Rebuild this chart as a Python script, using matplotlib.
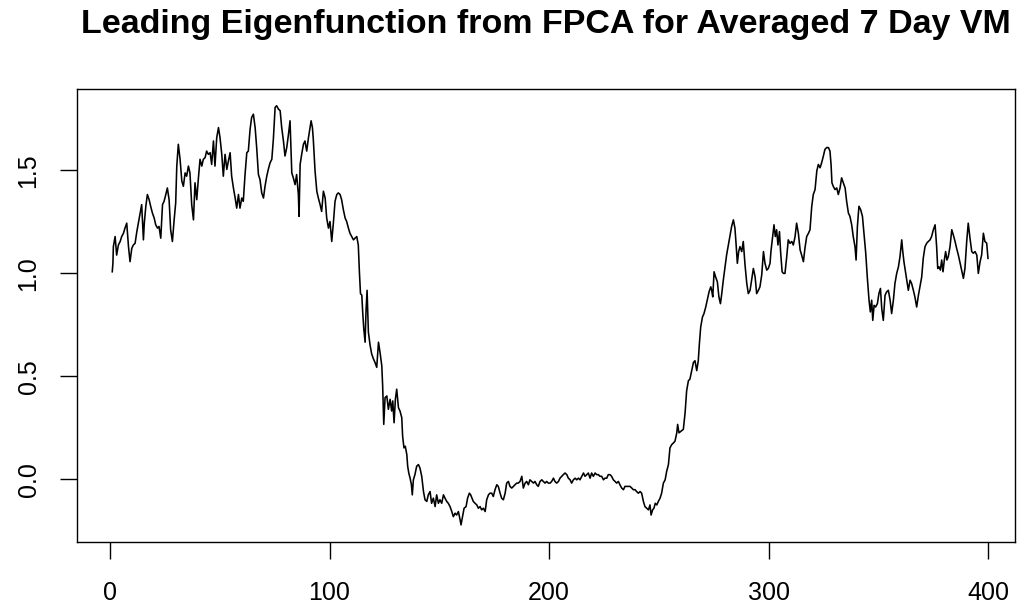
import matplotlib
matplotlib.use("Agg")
import matplotlib.pyplot as plt
import numpy as np

plt.rcParams["font.family"] = ["Liberation Sans", "DejaVu Sans"]

title = "Leading Eigenfunction from FPCA for Averaged 7 Day VM"

# leading eigenfunction, read in pieces along the grid (t = 1..400)
t_a = [1.0, 1.3, 1.5, 2.3, 3.0, 3.8, 4.6, 5.3, 6.1, 6.8, 7.6, 8.4, 9.1, 9.9, 10.6,
       11.4, 12.2, 12.9, 13.7, 14.4, 15.2, 15.6, 16.3, 17.0, 17.8, 18.5, 19.3, 20.1,
       20.8, 21.6, 22.3, 23.1, 23.9, 24.6, 25.4, 26.1, 26.9, 27.6, 28.4, 29.2, 29.9,
       30.4, 31.1, 31.9, 32.7, 33.4, 34.2, 34.9, 35.7, 36.4, 37.2, 38.0, 38.7, 39.5,
       40.2, 41.0, 41.8, 42.5, 43.3]
phi_a = [1.008, 1.049, 1.130, 1.179, 1.089, 1.138, 1.155, 1.179, 1.195, 1.220, 1.244,
         1.130, 1.057, 1.122, 1.138, 1.146, 1.203, 1.244, 1.293, 1.334, 1.163, 1.244,
         1.326, 1.383, 1.358, 1.326, 1.293, 1.269, 1.236, 1.220, 1.228, 1.171, 1.334,
         1.350, 1.383, 1.415, 1.358, 1.212, 1.155, 1.260, 1.342, 1.521, 1.627, 1.554,
         1.448, 1.423, 1.488, 1.472, 1.521, 1.488, 1.334, 1.260, 1.440, 1.358, 1.456,
         1.554, 1.521, 1.554, 1.562]

t_b = [44.0, 44.8, 45.6, 46.3, 47.1, 47.8, 48.6, 49.4, 50.1, 50.9, 51.6, 52.4, 53.2,
       53.9, 54.7, 55.4, 56.2, 57.0, 57.7, 58.5, 59.2, 60.0, 60.7, 61.5, 62.3, 63.0,
       63.8, 64.5, 65.3, 66.1, 66.8, 67.6, 68.3, 69.1, 69.9, 70.6, 71.4, 72.1, 72.9,
       73.7, 74.4, 75.2, 75.9, 76.7, 77.5, 78.2, 79.0, 79.7, 80.5, 81.3, 82.0, 82.8,
       83.5, 84.3]
phi_b = [1.594, 1.578, 1.586, 1.529, 1.643, 1.521, 1.659, 1.708, 1.659, 1.578, 1.472,
         1.578, 1.505, 1.545, 1.586, 1.472, 1.415, 1.366, 1.317, 1.383, 1.317, 1.366,
         1.350, 1.480, 1.586, 1.594, 1.700, 1.757, 1.773, 1.708, 1.611, 1.480, 1.456,
         1.391, 1.366, 1.423, 1.472, 1.505, 1.537, 1.554, 1.651, 1.806, 1.814, 1.798,
         1.790, 1.708, 1.643, 1.570, 1.611, 1.676, 1.741, 1.488, 1.464, 1.431]

t_c = [85.0, 85.8, 86.1, 86.6, 87.3, 88.1, 88.8, 89.6, 90.4, 91.1, 91.6, 92.2, 92.6,
       93.4, 94.2, 94.9, 95.7, 96.4, 97.2, 98.0, 98.7, 99.5, 100.2, 101.0, 101.8,
       102.5, 103.3, 104.0, 104.8, 105.5, 106.3, 107.1, 107.8, 108.6, 109.3, 110.1,
       110.9, 111.6, 112.4, 113.1, 113.6, 114.1, 114.7, 115.1, 115.6, 116.2, 116.6,
       117.1, 117.7, 118.5, 119.2, 120.0, 120.7, 121.5, 122.3, 123.0, 123.8, 124.2,
       124.7, 125.3, 126.1, 126.8, 127.6]
phi_c = [1.480, 1.383, 1.277, 1.529, 1.578, 1.627, 1.643, 1.594, 1.659, 1.708, 1.741,
         1.708, 1.651, 1.497, 1.399, 1.366, 1.334, 1.301, 1.399, 1.366, 1.269, 1.220,
         1.252, 1.155, 1.252, 1.350, 1.383, 1.391, 1.383, 1.358, 1.309, 1.269, 1.252,
         1.220, 1.195, 1.179, 1.163, 1.171, 1.179, 1.138, 1.008, 0.902, 0.894, 0.813,
         0.731, 0.666, 0.813, 0.918, 0.715, 0.650, 0.609, 0.585, 0.568, 0.544, 0.666,
         0.617, 0.552, 0.454, 0.267, 0.397, 0.405, 0.340, 0.389]

t_d = [128.3, 128.8, 129.4, 130.0, 130.6, 131.4, 132.1, 132.9, 133.3, 133.9, 134.5,
       135.2, 135.6, 136.1, 136.7, 137.3, 137.7, 138.2, 138.9, 139.7, 140.5, 141.2,
       142.0, 142.8, 143.5, 144.3, 145.0, 145.8, 146.5, 147.3, 148.1, 148.8, 149.6,
       150.3, 151.1, 151.9, 152.6, 153.4, 154.1, 154.9, 155.7, 156.4, 157.2, 157.9,
       158.7, 159.5, 159.9, 160.7, 161.3, 162.2, 162.9, 163.7, 164.3, 164.9, 165.5,
       166.3, 167.1, 167.8, 168.6, 169.3, 170.1, 170.9, 171.6, 172.4, 173.1]
phi_d = [0.332, 0.381, 0.275, 0.389, 0.438, 0.348, 0.332, 0.300, 0.210, 0.153, 0.161,
         0.121, 0.064, 0.031, 0.006, -0.026, -0.075, -0.002, 0.023, 0.064, 0.072,
         0.055, 0.015, -0.059, -0.099, -0.107, -0.075, -0.059, -0.116, -0.091, -0.132,
         -0.075, -0.116, -0.099, -0.116, -0.075, -0.091, -0.107, -0.116, -0.132,
         -0.156, -0.181, -0.164, -0.173, -0.156, -0.197, -0.221, -0.173, -0.140,
         -0.132, -0.091, -0.067, -0.075, -0.091, -0.107, -0.116, -0.124, -0.140,
         -0.132, -0.148, -0.140, -0.156, -0.099, -0.075, -0.067]

t_e = [173.9, 174.6, 175.4, 176.2, 176.9, 177.7, 178.4, 179.2, 180.0, 180.7, 181.5,
       182.2, 183.0, 183.8, 184.5, 185.3, 186.0, 186.8, 187.6, 188.3, 189.1, 189.8,
       190.6, 191.3, 192.1, 192.9, 193.6, 194.4, 195.1, 195.9, 196.7, 197.4, 198.2,
       198.9, 199.7, 200.5, 201.2, 202.0, 202.7, 203.5, 204.3, 205.0, 205.8, 206.5,
       207.3, 208.1, 208.8, 209.6, 210.3, 211.1, 211.9, 212.6, 213.4, 214.1, 214.9,
       215.7, 216.4]
phi_e = [-0.067, -0.083, -0.050, -0.026, -0.034, -0.067, -0.091, -0.099, -0.067,
         -0.018, -0.010, -0.034, -0.042, -0.034, -0.026, -0.018, -0.018, -0.010, 0.015,
         -0.042, -0.018, -0.010, -0.026, -0.002, -0.010, -0.018, -0.010, -0.026,
         -0.034, -0.010, -0.002, -0.010, -0.018, -0.010, -0.018, -0.018, -0.010, 0.006,
         -0.010, -0.018, -0.010, 0.006, 0.015, 0.023, 0.031, 0.023, 0.006, -0.002,
         -0.018, -0.002, 0.006, -0.002, 0.006, -0.002, 0.015, 0.031, 0.015]

t_f = [217.2, 217.9, 218.7, 219.4, 220.2, 221.0, 221.7, 222.5, 223.2, 224.0, 224.8,
       225.5, 226.3, 227.0, 227.8, 228.5, 229.3, 230.1, 230.8, 231.6, 232.3, 233.1,
       233.9, 234.6, 235.4, 236.1, 236.9, 237.7, 238.4, 239.2, 239.9, 240.7, 241.5,
       242.2, 243.0, 243.7, 244.5, 245.3, 246.0, 246.5, 247.2, 247.8, 248.4, 249.1,
       249.8, 250.6, 251.3, 252.1, 252.9, 253.6, 254.4, 255.1, 255.9, 256.7, 257.4,
       258.2, 258.6, 259.2]
phi_f = [0.023, 0.031, 0.006, 0.031, 0.015, 0.031, 0.023, 0.023, 0.015, 0.015, -0.002,
         0.006, 0.006, 0.023, 0.023, 0.015, -0.002, -0.010, -0.018, -0.010, -0.026,
         -0.042, -0.050, -0.034, -0.034, -0.034, -0.034, -0.042, -0.050, -0.050,
         -0.059, -0.067, -0.059, -0.067, -0.107, -0.132, -0.140, -0.148, -0.124,
         -0.173, -0.148, -0.140, -0.116, -0.124, -0.107, -0.091, -0.067, -0.018,
         -0.002, 0.039, 0.072, 0.153, 0.169, 0.177, 0.186, 0.226, 0.267, 0.226]

t_g = [261.2, 262.0, 262.7, 263.5, 264.2, 265.0, 265.8, 266.5, 267.3, 268.0, 268.5,
       269.1, 269.9, 270.6, 271.4, 272.1, 272.9, 273.7, 274.1, 274.6, 275.2, 275.9,
       276.7, 277.4, 278.1, 278.7, 279.4, 280.2, 280.9, 281.7, 282.5, 283.2, 284.0,
       284.7, 285.2, 285.8, 286.4, 287.0, 287.8, 288.5, 289.3, 290.1, 290.8, 291.6,
       292.3, 293.1, 293.9, 294.6, 295.4, 296.1, 296.9, 297.7, 298.4, 299.2, 299.9,
       300.7]
phi_g = [0.243, 0.324, 0.430, 0.479, 0.487, 0.528, 0.568, 0.576, 0.528, 0.576, 0.658,
         0.739, 0.788, 0.805, 0.837, 0.870, 0.910, 0.935, 0.918, 0.886, 1.008, 0.983,
         0.959, 0.886, 0.853, 0.902, 0.967, 1.032, 1.089, 1.138, 1.187, 1.228, 1.260,
         1.220, 1.147, 1.049, 1.106, 1.130, 1.106, 1.155, 1.041, 0.951, 0.902, 0.918,
         0.967, 1.024, 0.983, 0.902, 0.918, 0.935, 0.992, 1.106, 1.049, 1.016, 1.024,
         1.049]

t_h = [301.1, 301.9, 302.5, 303.1, 303.7, 304.3, 305.0, 305.5, 306.2, 306.8, 307.5,
       308.3, 309.0, 309.8, 310.6, 311.3, 312.1, 312.8, 313.6, 314.4, 315.1, 315.9,
       316.6, 317.4, 318.2, 318.9, 319.7, 320.4, 321.2, 322.0, 322.7, 323.5, 324.2,
       325.0, 325.7, 326.5, 327.3, 328.0, 328.5, 328.9, 329.5, 330.3, 331.1, 331.8,
       332.6, 333.3, 334.1, 334.9, 335.6, 336.4, 337.1, 337.9, 338.6, 339.4, 339.9,
       340.5, 341.2, 342.0, 342.8, 343.5, 344.3, 345.0, 345.8]
phi_h = [1.106, 1.179, 1.236, 1.179, 1.212, 1.138, 1.203, 1.106, 1.008, 1.000, 1.000,
         1.081, 1.163, 1.146, 1.155, 1.138, 1.179, 1.244, 1.195, 1.114, 1.089, 1.057,
         1.122, 1.179, 1.195, 1.212, 1.326, 1.383, 1.407, 1.497, 1.529, 1.513, 1.537,
         1.570, 1.602, 1.611, 1.611, 1.594, 1.529, 1.440, 1.423, 1.407, 1.415, 1.383,
         1.415, 1.464, 1.440, 1.415, 1.350, 1.293, 1.277, 1.236, 1.179, 1.130, 1.065,
         1.228, 1.326, 1.309, 1.277, 1.195, 1.098, 0.983, 0.870]

t_i = [346.4, 347.0, 347.5, 348.1, 348.8, 349.6, 350.3, 351.0, 351.6, 352.3, 353.1,
       353.8, 354.6, 355.4, 356.1, 356.9, 357.6, 358.4, 359.2, 359.9, 360.7, 361.1,
       361.7, 362.3, 363.0, 363.7, 364.5, 365.2, 366.0, 366.7, 367.5, 368.3, 369.0,
       369.8, 370.5, 371.3, 372.1, 372.8, 373.6, 374.3, 375.1, 375.9, 376.6, 377.1,
       377.7, 378.3, 378.9, 379.5, 380.1, 380.7, 381.3, 381.9, 382.7, 383.5, 384.2,
       385.0, 385.7, 386.5, 387.3, 388.0, 388.8, 389.5, 390.3, 391.0, 391.8, 392.6,
       393.3, 394.1, 394.9, 395.6, 396.4, 397.1, 397.9, 398.6, 399.4, 400.0]
phi_i = [0.813, 0.870, 0.772, 0.845, 0.837, 0.853, 0.902, 0.927, 0.829, 0.772, 0.894,
         0.910, 0.918, 0.870, 0.805, 0.870, 0.951, 1.000, 1.032, 1.081, 1.163, 1.114,
         1.057, 1.016, 0.967, 0.918, 0.967, 0.951, 0.918, 0.886, 0.837, 0.894, 0.935,
         0.983, 1.073, 1.130, 1.147, 1.155, 1.163, 1.179, 1.212, 1.236, 1.130, 1.024,
         1.032, 1.016, 1.065, 1.008, 1.065, 1.106, 1.065, 1.081, 1.130, 1.212, 1.187,
         1.155, 1.122, 1.089, 1.049, 1.016, 0.976, 1.024, 1.155, 1.244, 1.171, 1.106,
         1.098, 1.106, 1.089, 1.000, 1.057, 1.089, 1.195, 1.155, 1.147, 1.073]

x_ticks = [0, 100, 200, 300, 400]
y_ticks = [0.0, 0.5, 1.0, 1.5]

t = np.concatenate([t_a, t_b, t_c, t_d, t_e, t_f, t_g, t_h, t_i])
phi = np.concatenate([phi_a, phi_b, phi_c, phi_d, phi_e, phi_f, phi_g, phi_h, phi_i])

fig = plt.figure(figsize=(10.24, 6.12), dpi=100)
ax = fig.add_axes([0.0749, 0.1149, 0.9163, 0.7397])
ax.plot(t, phi, color="black", lw=1.15)

# base-R style: 4% padding around the data
yr = phi.max() - phi.min()
ax.set_xlim(-15.2, 412.3)
ax.set_ylim(phi.min() - 0.04 * yr, phi.max() + 0.04 * yr)

ax.set_xticks(x_ticks)
ax.set_xticklabels([str(v) for v in x_ticks])
ax.set_yticks(y_ticks)
ax.set_yticklabels([f"{v:.1f}" for v in y_ticks], rotation=90, va="center")

ax.tick_params(axis="both", direction="out", length=12, width=1.0,
               labelsize=18, colors="black")
ax.tick_params(axis="x", pad=16)
ax.tick_params(axis="y", pad=14)
for s in ax.spines.values():
    s.set_linewidth(1.0)
    s.set_color("black")

fig.text(0.0749 + 0.9163 / 2, 1 - 33 / 612, title, ha="center", va="baseline",
         fontsize=24.5, fontweight="bold")

fig.savefig("out.png", dpi=100)
